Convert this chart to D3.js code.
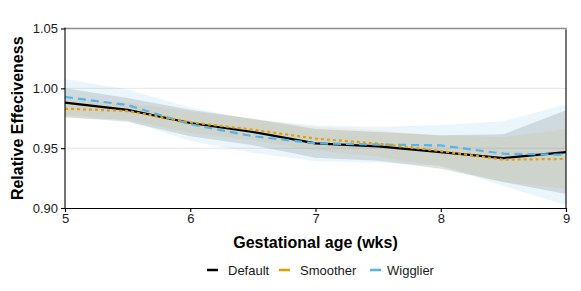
<!DOCTYPE html>
<html>
<head>
<meta charset="utf-8">
<script src="https://cdn.jsdelivr.net/npm/d3@7"></script>
<style>
  body { margin: 0; background: #fff; }
  text { font-family: "Liberation Sans", Arial, Helvetica, sans-serif; }
</style>
</head>
<body>
<svg id="chart" width="581" height="291"></svg>
<script>
// gestational age knots
let weeks = [5, 5.5, 6, 6.5, 7, 7.5, 8, 8.5, 9];

// estimates
let defaultFit  = [0.988, 0.982, 0.971, 0.9635, 0.954, 0.9515, 0.9467, 0.9417, 0.9467];
let smootherFit = [0.983, 0.981, 0.9716, 0.9655, 0.958, 0.9538, 0.9476, 0.9404, 0.941];
let wigglierFit = [0.9928, 0.986, 0.970, 0.960, 0.954, 0.953, 0.9523, 0.9454, 0.9445];

// half-width of the intervals
let defaultHw  = [0.012, 0.010, 0.011, 0.011, 0.012, 0.012, 0.014, 0.020, 0.035];
let smootherHw = [0.008, 0.007, 0.009, 0.009, 0.010, 0.011, 0.013, 0.019, 0.025];
let wigglierHw = [0.015, 0.013, 0.014, 0.014, 0.015, 0.015, 0.017, 0.027, 0.042];

let yTicks = [0.90, 0.95, 1.00, 1.05];
let xTicks = [5, 6, 7, 8, 9];
let seriesNames = ["Default", "Smoother", "Wigglier"];
let colors = ["#000000", "#E69F00", "#56B4E9"];

let svg = d3.select("#chart");
let pLeft = 65, pRight = 566, pTop = 28.5, pBottom = 208;

let x = d3.scaleLinear().domain([5, 9]).range([pLeft, pRight]);
let y = d3.scaleLinear().domain([0.90, 1.05]).range([pBottom, pTop]);

// grid
svg.append("g")
    .selectAll("line")
    .data([0.95, 1.00])
    .enter()
    .append("line")
    .attr("x1", pLeft).attr("x2", pRight)
    .attr("y1", d => y(d)).attr("y2", d => y(d))
    .style("stroke", "#e6e6e6")
    .style("stroke-width", 1);

let series = [
    { name: "Default", fit: defaultFit, hw: defaultHw, color: colors[0], dash: null },
    { name: "Smoother", fit: smootherFit, hw: smootherHw, color: colors[1], dash: "3,3" },
    { name: "Wigglier", fit: wigglierFit, hw: wigglierHw, color: colors[2], dash: "8,5" }
];

let area = d3.area()
    .x(d => x(d.w))
    .y0(d => y(d.v - d.h))
    .y1(d => y(d.v + d.h));

let line = d3.line()
    .x(d => x(d.w))
    .y(d => y(d.v));

let ribbonOpacity = [0.12, 0.1, 0.12];

series.forEach(function(s, i) {
    let pts = weeks.map((w, j) => ({ w: w, v: s.fit[j], h: s.hw[j] }));
    svg.append("path")
        .datum(pts)
        .attr("d", area)
        .style("fill", s.color)
        .style("fill-opacity", ribbonOpacity[i]);
});

[0, 2, 1].forEach(function(i) {
    let s = series[i];
    let pts = weeks.map((w, j) => ({ w: w, v: s.fit[j] }));
    svg.append("path")
        .datum(pts)
        .attr("d", line)
        .style("fill", "none")
        .style("stroke", s.color)
        .style("stroke-width", 2.2)
        .style("stroke-dasharray", s.dash);
});

// panel border bits
svg.append("line")
    .attr("x1", pLeft).attr("x2", pRight + 1)
    .attr("y1", pTop).attr("y2", pTop)
    .style("stroke", "#8c8c8c").style("stroke-width", 1.3);
svg.append("line")
    .attr("x1", pRight).attr("x2", pRight)
    .attr("y1", pTop + 1).attr("y2", pBottom)
    .style("stroke", "#000").style("stroke-width", 1.1);

// axes
let yAxis = svg.append("g")
    .attr("transform", "translate(" + pLeft + ",0)")
    .call(d3.axisLeft(y).tickValues(yTicks).tickFormat(d3.format(".2f")).tickSize(4).tickPadding(3));
let xAxis = svg.append("g")
    .attr("transform", "translate(0," + pBottom + ")")
    .call(d3.axisBottom(x).tickValues(xTicks).tickFormat(d3.format("d")).tickSize(4).tickPadding(2));

[yAxis, xAxis].forEach(function(a) {
    a.select(".domain").style("stroke", "#000").style("stroke-width", 1.1);
    a.selectAll(".tick line").style("stroke", "#000").style("stroke-width", 1.1);
    a.selectAll(".tick text")
        .style("font-family", "Liberation Sans, Arial, sans-serif")
        .style("font-size", "13px")
        .style("fill", "#1a1a1a");
});
yAxis.select(".domain").attr("d", "M-0," + (pTop - 1) + "V" + (pBottom + 0.5));

// axis titles
svg.append("text")
    .attr("transform", "translate(23," + ((pTop + pBottom) / 2) + ") rotate(-90)")
    .attr("text-anchor", "middle")
    .style("font-size", "16px")
    .style("font-weight", "bold")
    .text("Relative Effeciveness");

svg.append("text")
    .attr("x", (pLeft + pRight) / 2)
    .attr("y", 248)
    .attr("text-anchor", "middle")
    .style("font-size", "16px")
    .style("font-weight", "bold")
    .text("Gestational age (wks)");

// legend
let legendX = [207, 279, 370];
let legend = svg.append("g")
    .selectAll("g")
    .data(seriesNames)
    .enter()
    .append("g")
    .attr("transform", (d, i) => "translate(" + legendX[i] + ",270)");

legend.append("line")
    .attr("x1", 0).attr("x2", 11)
    .attr("y1", 0).attr("y2", 0)
    .style("stroke", (d, i) => colors[i])
    .style("stroke-width", 2.5);

legend.append("text")
    .attr("x", (d, i) => i == 2 ? 17 : 21)
    .attr("y", 4.5)
    .style("font-size", "13px")
    .style("fill", "#1a1a1a")
    .text(d => d);
</script>
</body>
</html>
